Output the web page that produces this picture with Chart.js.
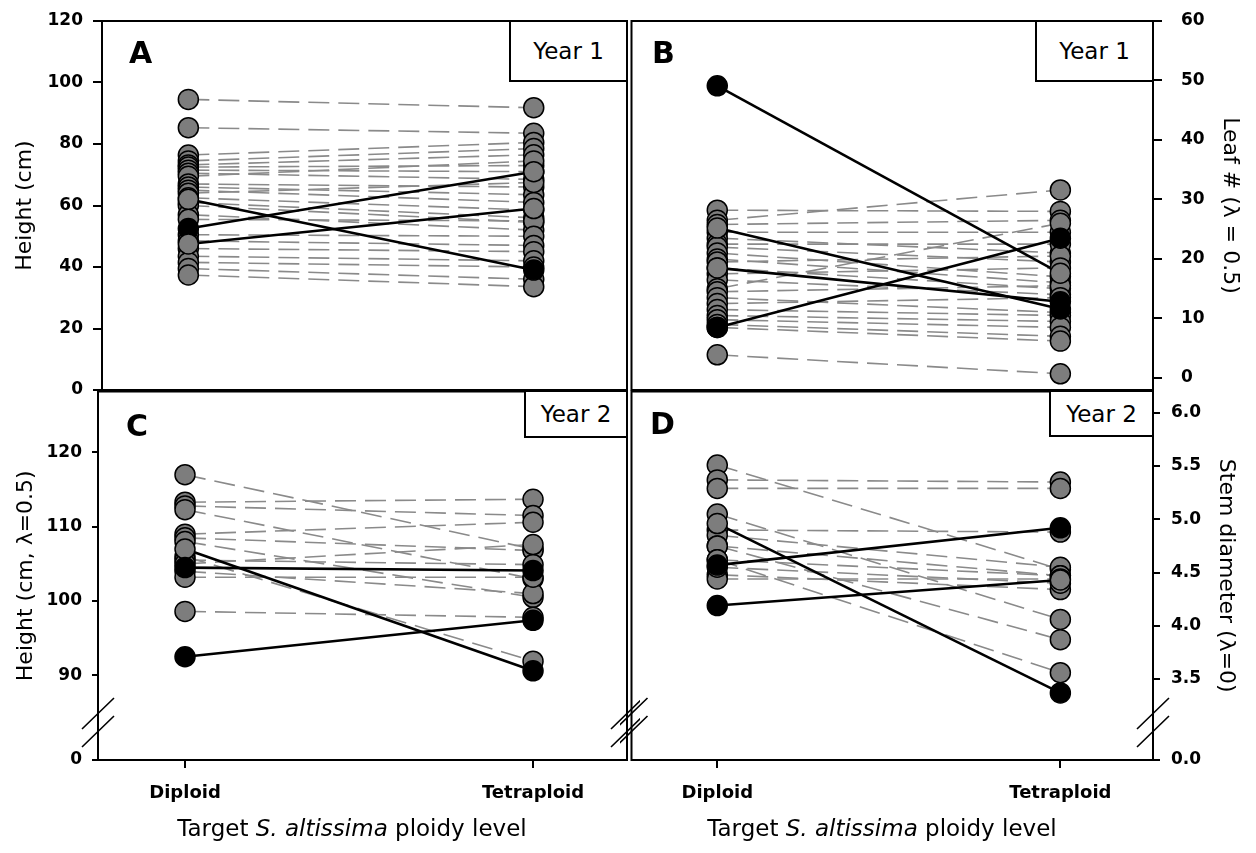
<!DOCTYPE html>
<html><head><meta charset="utf-8">
<script src="https://cdn.jsdelivr.net/npm/chart.js@4/dist/chart.umd.min.js"></script>
<style>
html,body{margin:0;padding:0;background:#fff;}
body{width:1256px;height:853px;position:relative;overflow:hidden;font-family:"DejaVu Sans",sans-serif;color:#000;}
canvas{position:absolute;}
.yr{position:absolute;box-sizing:border-box;border:2px solid #000;background:#fff;display:flex;align-items:center;justify-content:center;font-size:23px;z-index:5;}
.lt{position:absolute;font-weight:bold;font-size:30px;line-height:30px;z-index:5;}
.xt{position:absolute;width:520px;text-align:center;font-size:23px;line-height:23px;white-space:nowrap;}
</style></head><body>
<canvas id="cA" width="640" height="402" style="left:0;top:0"></canvas>
<canvas id="cB" width="636" height="402" style="left:620px;top:0"></canvas>
<canvas id="cC" width="640" height="473" style="left:0;top:380px"></canvas>
<canvas id="cD" width="636" height="473" style="left:620px;top:380px"></canvas>

<div class="yr" style="left:509px;top:20px;width:119px;height:62px">Year 1</div>
<div class="yr" style="left:1035px;top:20px;width:119px;height:62px">Year 1</div>
<div class="yr" style="left:524px;top:390px;width:104px;height:48px">Year 2</div>
<div class="yr" style="left:1049px;top:390px;width:105px;height:47px">Year 2</div>

<div class="lt" style="left:129px;top:38px">A</div>
<div class="lt" style="left:652px;top:38px">B</div>
<div class="lt" style="left:126px;top:411px">C</div>
<div class="lt" style="left:650px;top:409px">D</div>

<div class="xt" style="left:92px;top:817px">Target <i>S. altissima</i> ploidy level</div>
<div class="xt" style="left:622px;top:817px">Target <i>S. altissima</i> ploidy level</div>

<script>
// ---------- DATA ----------
const xLabels = ['Diploid', 'Tetraploid'];

// Panel A: Height (cm), Year 1
const aDipGrey = [94.5, 85.3, 76.4, 74.5, 73.2, 72.5, 71.5, 70.5, 69.5, 67.0, 66.0, 65.0, 64.0, 62.5, 61.0, 60.0, 57.0, 55.5, 50.5, 48.5, 46.0, 43.5, 41.5, 39.5, 37.4];
const aTetGrey = [91.8, 83.5, 80.5, 78.5, 76.5, 73.0, 71.0, 68.5, 74.5, 66.0, 63.5, 61.0, 67.5, 58.5, 56.0, 54.5, 52.0, 55.0, 50.0, 47.0, 45.0, 42.0, 40.0, 36.0, 33.6];
const aDipSig = [62.0, 52.5, 47.5];
const aTetSig = [39.0, 71.0, 59.0];
const aTicks = [0, 20, 40, 60, 80, 100, 120];
const aTickLabels = ['0', '20', '40', '60', '80', '100', '120'];

// Panel B: Leaf # (lambda = 0.5), Year 1
const bDipGrey = [28.2, 26.5, 25.8, 24.5, 23.5, 22.5, 22.0, 21.0, 20.0, 19.5, 18.5, 17.5, 16.5, 15.0, 14.5, 13.5, 12.5, 11.5, 10.5, 9.8, 9.0, 8.5, 3.9];
const bTetGrey = [28.0, 31.6, 26.5, 24.5, 21.0, 22.5, 19.5, 17.0, 16.0, 20.5, 15.0, 18.5, 14.0, 26.0, 15.5, 11.0, 13.5, 10.5, 9.5, 8.5, 7.0, 6.2, 0.7];
const bDipSig = [49.1, 25.2, 18.5, 8.5];
const bTetSig = [17.6, 11.6, 12.8, 23.5];
const bTicks = [0, 10, 20, 30, 40, 50, 60];
const bTickLabels = ['0', '10', '20', '30', '40', '50', '60'];

// Panel C: Height (cm, lambda = 0.5), Year 2 (broken axis)
const cDipGrey = [117.0, 113.3, 112.8, 112.3, 109.0, 108.5, 108.0, 106.0, 105.5, 105.0, 104.0, 103.2, 98.6];
const cTetGrey = [107.0, 113.7, 111.5, 103.0, 110.6, 106.8, 100.5, 91.9, 104.9, 107.6, 101.0, 103.2, 97.8];
const cDipSig = [107.0, 104.5, 92.5];
const cTetSig = [90.6, 104.1, 97.4];
const cTicks = [78.6, 90, 100, 110, 120];
const cTickLabels = ['0', '90', '100', '110', '120'];

// Panel D: Stem diameter (lambda = 0), Year 2 (broken axis)
const dDipGrey = [5.51, 5.37, 5.29, 5.05, 4.90, 4.85, 4.75, 4.75, 4.62, 4.62, 4.48, 4.44, 4.55];
const dTetGrey = [4.53, 5.35, 5.29, 4.06, 4.88, 4.55, 4.47, 3.87, 3.56, 4.47, 4.34, 4.44, 4.40];
const dDipSig = [4.96, 4.57, 4.19];
const dTetSig = [3.37, 4.92, 4.43];
const dTicks = [2.74, 3.5, 4.0, 4.5, 5.0, 5.5, 6.0];
const dTickLabels = ['0.0', '3.5', '4.0', '4.5', '5.0', '5.5', '6.0'];

// ---------- STYLE ----------
const FONT = '"DejaVu Sans", sans-serif';
const GREY_FILL = '#7d7d7d';
const BLACK = '#000000';
const G = GREY_FILL, K = BLACK;
const sigFills = {
  A: { dip: [G, K, G], tet: [K, G, G] },
  B: { dip: [K, G, G, K], tet: [G, K, K, K] },
  C: { dip: [G, K, K], tet: [K, K, K] },
  D: { dip: [G, K, K], tet: [K, K, G] }
};

const boxPlugin = {
  id: 'box',
  afterDraw(chart, args, opts) {
    const ctx = chart.ctx, ca = chart.chartArea;
    ctx.save();
    ctx.strokeStyle = '#000';
    ctx.lineWidth = 2;
    ctx.strokeRect(ca.left, ca.top, ca.right - ca.left, ca.bottom - ca.top);
    if (opts && opts.breaks) {
      ctx.lineWidth = 1.6;
      const b = ca.bottom;
      [ca.left, ca.right].forEach(ax => {
        ctx.beginPath();
        ctx.moveTo(ax - 16, b - 31); ctx.lineTo(ax + 16, b - 62);
        ctx.moveTo(ax - 16, b - 13); ctx.lineTo(ax + 16, b - 44);
        ctx.stroke();
      });
    }
    ctx.restore();
  }
};

function buildPanel(id, o) {
  const datasets = [];
  const pts = (dip, tet) => dip.map(v => ({ x: 0, y: v })).concat(tet.map(v => ({ x: 1, y: v })));
  datasets.push({
    data: pts(o.dipSig, o.tetSig), showLine: false, order: 0,
    pointRadius: 10, pointBorderWidth: 1.5, pointBorderColor: '#000',
    pointBackgroundColor: o.fills.dip.concat(o.fills.tet)
  });
  datasets.push({
    data: pts(o.dipGrey, o.tetGrey), showLine: false, order: 1,
    pointRadius: 10, pointBorderWidth: 1.5, pointBorderColor: '#000',
    pointBackgroundColor: GREY_FILL
  });
  o.dipSig.forEach((v, i) => datasets.push({
    data: [{ x: 0, y: v }, { x: 1, y: o.tetSig[i] }], order: 2,
    borderColor: '#000', borderWidth: 2.6, pointRadius: 0, tension: 0
  }));
  o.dipGrey.forEach((v, i) => datasets.push({
    data: [{ x: 0, y: v }, { x: 1, y: o.tetGrey[i] }], order: 3,
    borderColor: '#8a8a8a', borderWidth: 1.6, borderDash: [21, 9], pointRadius: 0, tension: 0
  }));

  return new Chart(document.getElementById(id), {
    type: 'line',
    data: { datasets },
    plugins: [boxPlugin],
    options: {
      responsive: false, animation: false, events: [],
      layout: { padding: o.pad },
      plugins: { legend: { display: false }, tooltip: { enabled: false }, box: { breaks: o.breaks } },
      elements: { line: { fill: false } },
      scales: {
        x: {
          type: 'linear', min: -0.25, max: 1.27, display: o.showX,
          afterBuildTicks: s => { s.ticks = [{ value: 0 }, { value: 1 }]; },
          afterFit: s => { s.height = o.showX ? 93 : 0; s.paddingLeft = 0; s.paddingRight = 0; },
          grid: { display: true, drawOnChartArea: false, drawTicks: true, tickLength: 8, color: '#000', lineWidth: 2 },
          border: { display: true, color: '#000', width: 2 },
          ticks: {
            callback: (v, i) => xLabels[i], color: '#000', padding: 15, maxRotation: 0, autoSkip: false,
            font: { family: FONT, size: 18, weight: 'bold' }
          }
        },
        y: {
          type: 'linear', position: o.yPos, min: o.yMin, max: o.yMax,
          afterBuildTicks: s => { s.ticks = o.yTicks.map(v => ({ value: v })); },
          afterFit: s => { s.width = o.yWidth; s.paddingTop = 0; s.paddingBottom = 0; },
          grid: { display: true, drawOnChartArea: false, drawTicks: true, tickLength: o.tickLen, color: '#000', lineWidth: 2 },
          border: { display: true, color: '#000', width: 2 },
          ticks: {
            callback: (v, i) => o.yTickLabels[i], color: '#000', padding: o.tickPad, autoSkip: false,
            font: { family: FONT, size: 17, weight: 'bold' }
          },
          title: {
            display: true, text: o.yTitle, color: '#000',
            font: { family: FONT, size: 22 }, padding: { top: o.titlePad, bottom: 0 }
          }
        }
      }
    }
  });
}

buildPanel('cA', {
  dipGrey: aDipGrey, tetGrey: aTetGrey, dipSig: aDipSig, tetSig: aTetSig, fills: sigFills.A,
  yMin: 0, yMax: 120, yTicks: aTicks, yTickLabels: aTickLabels, yPos: 'left', yWidth: 102,
  yTitle: 'Height (cm)', titlePad: 12, tickPad: 10, tickLen: 9, showX: false, breaks: false,
  pad: { left: 0, top: 21, right: 13, bottom: 12 }
});
buildPanel('cB', {
  dipGrey: bDipGrey, tetGrey: bTetGrey, dipSig: bDipSig, tetSig: bTetSig, fills: sigFills.B,
  yMin: -2.02, yMax: 60, yTicks: bTicks, yTickLabels: bTickLabels, yPos: 'right', yWidth: 103,
  yTitle: 'Leaf # (\u03bb = 0.5)', titlePad: 13, tickPad: 19, tickLen: 9, showX: false, breaks: false,
  pad: { left: 8, top: 21, right: 0, bottom: 12 }
});
buildPanel('cC', {
  dipGrey: cDipGrey, tetGrey: cTetGrey, dipSig: cDipSig, tetSig: cTetSig, fills: sigFills.C,
  yMin: 78.6, yMax: 128.2, yTicks: cTicks, yTickLabels: cTickLabels, yPos: 'left', yWidth: 98,
  yTitle: 'Height (cm, \u03bb=0.5)', titlePad: 13, tickPad: 10, tickLen: 6, showX: true, breaks: true,
  pad: { left: 0, top: 11, right: 13, bottom: 0 }
});
buildPanel('cD', {
  dipGrey: dDipGrey, tetGrey: dTetGrey, dipSig: dDipSig, tetSig: dTetSig, fills: sigFills.D,
  yMin: 2.74, yMax: 6.2, yTicks: dTicks, yTickLabels: dTickLabels, yPos: 'right', yWidth: 103,
  yTitle: 'Stem diameter (\u03bb=0)', titlePad: 17, tickPad: 11, tickLen: 7, showX: true, breaks: true,
  pad: { left: 8, top: 11, right: 0, bottom: 0 }
});
</script>
</body></html>
